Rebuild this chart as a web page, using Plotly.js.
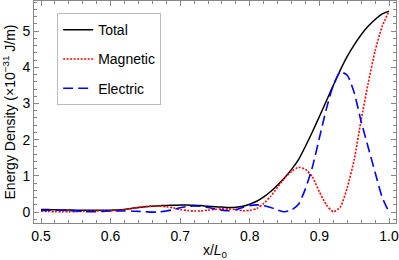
<!DOCTYPE html>
<html>
<head>
<meta charset="utf-8">
<script src="https://cdn.plot.ly/plotly-3.0.1.min.js"></script>
<style>html,body{margin:0;padding:0;background:#fff}#chart{width:399px;height:260px}</style>
</head>
<body>
<div id="chart"></div>
<script>
const xPos = [0.50,0.51,0.52,0.53,0.54,0.55,0.56,0.57,0.58,0.59,
              0.60,0.61,0.62,0.63,0.64,0.65,0.66,0.67,0.68,0.69,
              0.70,0.71,0.72,0.73,0.74,0.75,0.76,0.77,0.78,0.79,
              0.80,0.81,0.82,0.83,0.84,0.85,0.86,0.87,0.88,0.89,
              0.90,0.91,0.92,0.93,0.94,0.95,0.96,0.97,0.98,0.99,1.00];
const totalDensity = [0.07,0.07,0.065,0.06,0.06,0.055,0.05,0.05,0.05,0.05,
              0.055,0.06,0.075,0.10,0.13,0.15,0.165,0.175,0.185,0.19,
              0.195,0.195,0.19,0.18,0.165,0.15,0.14,0.13,0.135,0.16,
              0.22,0.30,0.42,0.57,0.75,0.95,1.18,1.45,1.82,2.22,
              2.64,3.07,3.50,3.92,4.30,4.62,4.90,5.13,5.32,5.47,5.55];
const magneticDensity = [0.03,0.02,0.01,0.01,0.01,0.015,0.02,0.03,0.035,0.035,
              0.035,0.05,0.07,0.10,0.13,0.155,0.17,0.17,0.15,0.12,
              0.075,0.045,0.03,0.035,0.055,0.075,0.09,0.09,0.07,0.04,
              0.05,0.10,0.24,0.44,0.69,0.94,1.12,1.24,1.18,0.97,
              0.56,0.20,0.01,0.14,0.68,1.45,2.55,3.55,4.45,5.12,5.55];
const electricDensity = [0.05,0.05,0.055,0.05,0.045,0.035,0.02,0.01,0.01,0.02,
              0.03,0.03,0.03,0.025,0.02,0.01,0.0,0.005,0.03,0.07,
              0.12,0.155,0.17,0.16,0.13,0.09,0.055,0.04,0.07,0.13,
              0.18,0.20,0.18,0.13,0.06,0.01,0.06,0.22,0.65,1.25,
              2.05,2.85,3.50,3.87,3.78,3.30,2.50,1.80,1.10,0.42,0.0];
const xTicks = [0.5,0.6,0.7,0.8,0.9,1.0];
const xTickText = ["0.5","0.6","0.7","0.8","0.9","1.0"];
const yTicks = [0,1,2,3,4,5];
const yTickText = ["0","1","2","3","4","5"];

const fontFam = "Liberation Sans, Arial, sans-serif";
const traces = [
  {x:xPos, y:totalDensity, name:"Total", mode:"lines", legendgroup:"a",
   line:{color:"#000000", width:1.5, shape:"spline", smoothing:0.6}},
  {x:xPos, y:magneticDensity, name:"Magnetic", mode:"lines", legendgroup:"b",
   line:{color:"#ff0000", width:1.6, dash:"2px,1.5px", shape:"spline", smoothing:0.6}},
  {x:xPos, y:electricDensity, name:"Electric", mode:"lines", legendgroup:"c",
   line:{color:"#0000ff", width:1.6, dash:"10px,5px", shape:"spline", smoothing:0.6}}
];
const axisCommon = {
  showgrid:false, zeroline:false, showline:true, linecolor:"#888", linewidth:1,
  mirror:"ticks", ticks:"inside", ticklen:5, tickcolor:"#888", tickwidth:1,
  tickfont:{family:fontFam, size:14, color:"#000"}
};
const layout = {
  width:399, height:260,
  margin:{l:34, r:3, t:1, b:37},
  paper_bgcolor:"#fff", plot_bgcolor:"#fff",
  font:{family:fontFam, size:14, color:"#000"},
  showlegend:true,
  legend:{x:0.064, y:0.945, xanchor:"left", yanchor:"top",
    bgcolor:"#fff", bordercolor:"#bbb", borderwidth:1,
    font:{family:fontFam, size:14, color:"#000"},
    traceorder:"grouped", tracegroupgap:8, itemwidth:30},
  xaxis:Object.assign({}, axisCommon, {
    range:[0.48994,1.01006], tickmode:"array", tickvals:xTicks, ticktext:xTickText,
    minor:{dtick:0.02, ticks:"inside", ticklen:3, tickcolor:"#888"},
    title:{text:"x/<i>L</i><sub>0</sub>", font:{family:fontFam, size:14, color:"#000"}, standoff:7}
  }),
  yaxis:Object.assign({}, axisCommon, {
    range:[-0.30,5.83], tickmode:"array", tickvals:yTicks, ticktext:yTickText,
    minor:{dtick:0.2, ticks:"inside", ticklen:3, tickcolor:"#888"},
    title:{text:"Energy Density (×10<sup>−31</sup> J/m)", font:{family:fontFam, size:14, color:"#000"}, standoff:4}
  })
};
Plotly.newPlot("chart", traces, layout, {displayModeBar:false, staticPlot:true});
</script>
</body>
</html>
